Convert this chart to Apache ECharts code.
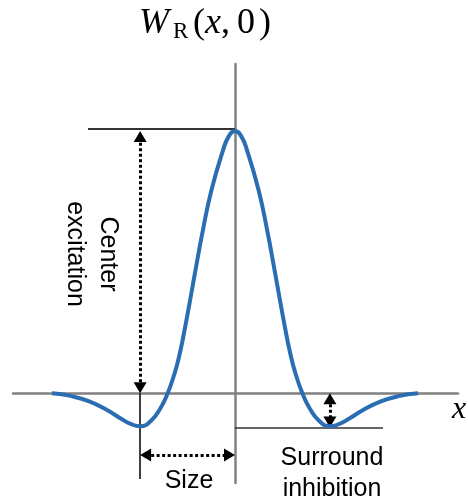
<!DOCTYPE html>
<html>
<head>
<meta charset="utf-8">
<script src="https://cdn.jsdelivr.net/npm/echarts@6/dist/echarts.min.js"></script>
<style>
  html, body { margin: 0; padding: 0; background: #fff; }
  #chart { width: 468px; height: 502px; }
</style>
</head>
<body>
<div id="chart"></div>
<script>
// Receptive-field profile W_R(x, 0): centre-excitation / surround-inhibition curve
const curveX = [-1.93, -1.72, -1.53, -1.35, -1.2, -1.1, -1.0, -0.88, -0.78, -0.71, -0.65, -0.59, -0.51, -0.42, -0.34, -0.25, -0.13, -0.065, 0,
                 0.065, 0.13, 0.25, 0.34, 0.42, 0.51, 0.59, 0.65, 0.71, 0.78, 0.88, 1.0, 1.1, 1.2, 1.35, 1.53, 1.72, 1.93];
const curveY = [0, -0.011, -0.032, -0.064, -0.097, -0.117, -0.126, -0.103, -0.053, 0, 0.061, 0.139, 0.283, 0.463, 0.619, 0.772, 0.922, 0.98, 1.0,
                0.98, 0.922, 0.772, 0.619, 0.463, 0.283, 0.139, 0.061, 0, -0.053, -0.103, -0.126, -0.117, -0.097, -0.064, -0.032, -0.011, 0];

// annotation values
const peakValue = 1.0;          // centre excitation height
const troughX = 1.0;            // offset of the surround minimum
const troughValue = -0.13;      // surround inhibition depth
const peakGuideStart = -1.55;   // left end of the peak guide line
const troughGuideEnd = 1.56;    // right end of the trough guide line
const sizeArrowY = -0.235;      // level of the "Size" arrow
const dropLineBottom = -0.327;  // lower end of the size guide line

const points = curveX.map((x, i) => [x, curveY[i]]);

const dotted = { color: '#000', width: 3, type: [3, 2.5], cap: 'butt' };
const headLen = 11;
// arrowheads are centred on their end point; pull the ends back so the tips land on it
const arrowEnd = { symbol: 'triangle', symbolSize: [13, headLen] };
const inset = headLen / 2;

const chart = echarts.init(document.getElementById('chart'), null, { renderer: 'canvas' });

function buildOption() {
  const xPerPx = (2.35 + 2.34) / 445;
  const yPerPx = (1.255 + 0.342) / 419;
  const dx = inset * xPerPx, dy = inset * yPerPx;
  return {
    animation: false,
    backgroundColor: '#fff',
    grid: { left: 13, right: 10, top: 64, bottom: 19 },
    xAxis: {
      type: 'value', min: -2.34, max: 2.35,
      axisLine: { onZero: true, lineStyle: { color: '#808080', width: 2.5 } },
      axisTick: { show: false }, axisLabel: { show: false }, splitLine: { show: false }
    },
    yAxis: {
      type: 'value', min: -0.342, max: 1.255,
      axisLine: { show: true, onZero: true, lineStyle: { color: '#808080', width: 2.5 } },
      axisTick: { show: false }, axisLabel: { show: false }, splitLine: { show: false }
    },
    series: [{
      type: 'line',
      data: points,
      smooth: 0.5,
      showSymbol: false,
      lineStyle: { color: '#2a6db3', width: 4 },
      z: 5,
      markLine: {
        silent: true,
        symbol: ['none', 'none'],
        label: { show: false },
        data: [
          // guide at the peak
          [{ coord: [peakGuideStart, peakValue + 0.01], lineStyle: { color: '#333', width: 2, type: 'solid' } },
           { coord: [0, peakValue + 0.01] }],
          // centre excitation arrow
          [{ coord: [-troughX, dy], lineStyle: dotted, ...arrowEnd },
           { coord: [-troughX, peakValue - dy], ...arrowEnd }],
          // size guide line
          [{ coord: [-troughX, 0], lineStyle: { color: '#000', width: 1.5, type: 'solid' } },
           { coord: [-troughX, dropLineBottom] }],
          // size arrow
          [{ coord: [-troughX + dx, sizeArrowY], lineStyle: dotted, ...arrowEnd },
           { coord: [-dx, sizeArrowY], ...arrowEnd }],
          // guide at the trough
          [{ coord: [0, troughValue], lineStyle: { color: '#333', width: 1.5, type: 'solid' } },
           { coord: [troughGuideEnd, troughValue] }],
          // surround inhibition arrow
          [{ coord: [troughX, -dy], lineStyle: dotted, ...arrowEnd },
           { coord: [troughX, troughValue + dy], ...arrowEnd }]
        ]
      }
    }],
    graphic: [
      { type: 'text', left: 139, top: 6, z: 10,
        style: { text: 'W', font: 'italic 36px "Liberation Serif"', fill: '#000' } },
      { type: 'text', left: 173, top: 20, z: 10,
        style: { text: 'R', font: '23px "Liberation Serif"', fill: '#000' } },
      { type: 'text', left: 193, top: 6, z: 10,
        style: {
          text: '{p|(}{i|x}{c|,}{p|0}{q|)}',
          rich: {
            p: { font: '36px "Liberation Serif"', fill: '#000' },
            c: { font: '36px "Liberation Serif"', fill: '#000', padding: [0, 7, 0, 0] },
            q: { font: '36px "Liberation Serif"', fill: '#000', padding: [0, 0, 0, 4] },
            i: { font: 'italic 36px "Liberation Serif"', fill: '#000' }
          }
        } },
      { type: 'text', x: 459, y: 410, z: 10,
        style: { text: 'x', font: 'italic 32px "Liberation Serif"', fill: '#000', align: 'center', verticalAlign: 'middle' } },
      { type: 'text', x: 91, y: 254, rotation: -Math.PI / 2, z: 10,
        style: { text: 'Center\nexcitation', font: '25px "Liberation Sans"', lineHeight: 33, fill: '#000',
                 align: 'center', verticalAlign: 'middle' } },
      { type: 'text', x: 189, y: 481, z: 10,
        style: { text: 'Size', font: '25px "Liberation Sans"', fill: '#000', align: 'center', verticalAlign: 'middle' } },
      { type: 'text', x: 332, y: 474, z: 10,
        style: { text: 'Surround\ninhibition', font: '25px "Liberation Sans"', lineHeight: 31, fill: '#000',
                 align: 'center', verticalAlign: 'middle' } }
    ]
  };
}
chart.setOption(buildOption());
</script>
</body>
</html>
